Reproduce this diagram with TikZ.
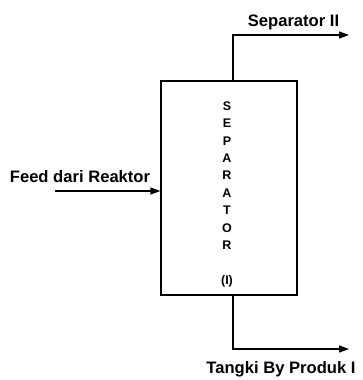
\documentclass[tikz,border=0pt]{standalone}
\usepackage{fontspec}
\setmainfont{Liberation Sans}
\usetikzlibrary{arrows.meta}
\begin{document}
\begin{tikzpicture}[x=1pt,y=-1pt,
  flow/.style={line width=1.2pt,-{Triangle[length=10pt,width=7pt]}},
  lbl/.style={font=\bfseries\fontsize{16.6}{19}\selectfont,inner sep=0pt},
  let/.style={font=\bfseries\fontsize{12.5}{14}\selectfont,inner sep=0pt}]
\useasboundingbox (0,0) rectangle (362,380);
\node[draw,line width=1.2pt,minimum width=136pt,minimum height=214pt,inner sep=0pt] (sep) at (229,188) {};
\foreach \c [count=\i from 0] in {S,E,P,A,R,A,T,O,R}{
  \node[let] (l\i) at (227,106+17.4*\i) {\c};
}
\node[let] (num) at (227,281) {(I)};
% top outlet
\coordinate (topout) at (233,81);
\coordinate (topc) at (233,35);
\coordinate (topend) at (349,35);
\draw[flow] (topout) -- (topc) -- (topend);
\node[lbl,anchor=base] (lsep) at (293.5,27) {Separator II};
% bottom outlet
\coordinate (botout) at (233,295);
\coordinate (botc) at (233,349);
\coordinate (botend) at (349,349);
\draw[flow] (botout) -- (botc) -- (botend);
\node[lbl,anchor=base] (ltank) at (281,373) {Tangki By Produk I};
% feed
\coordinate (feedstart) at (55,191);
\draw[flow] (feedstart) -- (sep.west |- feedstart);
\node[lbl,anchor=base] (lfeed) at (80,182) {Feed dari Reaktor};
\end{tikzpicture}
\end{document}
